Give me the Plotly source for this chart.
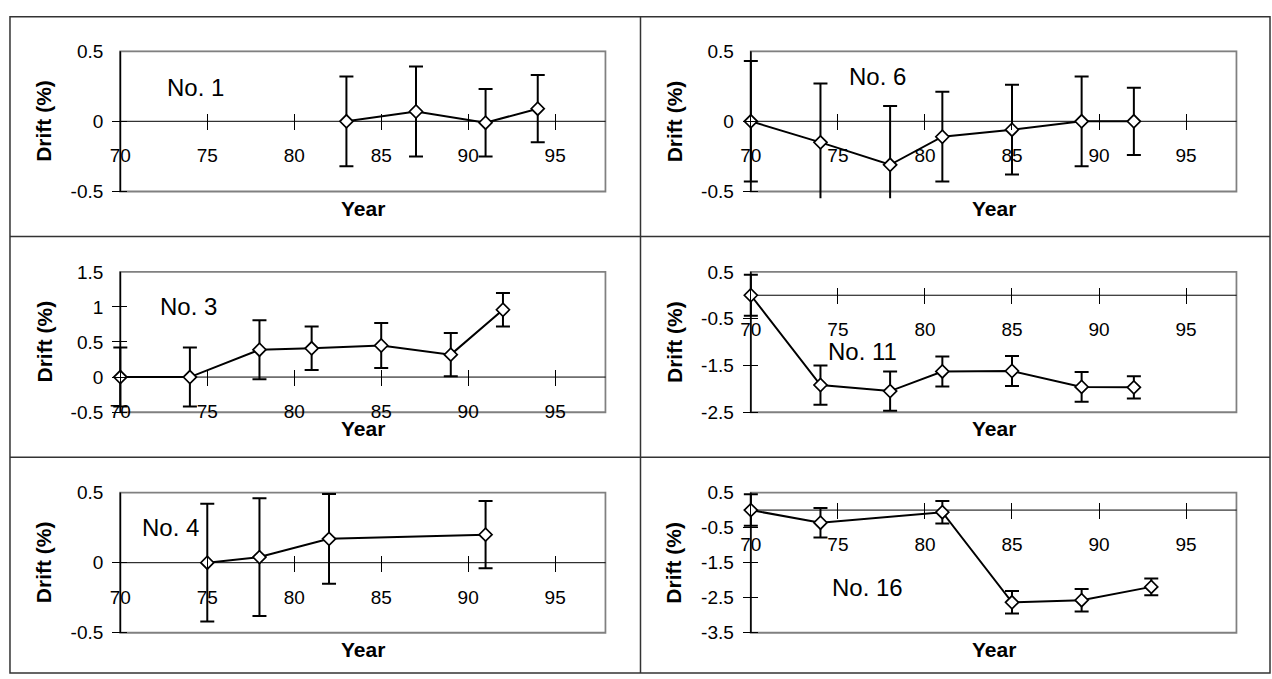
import plotly.graph_objects as go

# ---------------- data ----------------
YEAR_TICKS = [70, 75, 80, 85, 90, 95]
X_MIN, X_MAX = 70, 97.9

NO1_YEARS = [83, 87, 91, 94]
NO1_DRIFT = [0.0, 0.07, -0.01, 0.09]
NO1_ERR = [0.32, 0.32, 0.24, 0.24]
NO1_YTICKS = [-0.5, 0, 0.5]

NO6_YEARS = [70, 74, 78, 81, 85, 89, 92]
NO6_DRIFT = [0.0, -0.15, -0.31, -0.11, -0.06, 0.0, 0.0]
NO6_ERR = [0.43, 0.42, 0.42, 0.32, 0.32, 0.32, 0.24]
NO6_YTICKS = [-0.5, 0, 0.5]

NO3_YEARS = [70, 74, 78, 81, 85, 89, 92]
NO3_DRIFT = [0.0, 0.0, 0.39, 0.41, 0.45, 0.32, 0.96]
NO3_ERR = [0.42, 0.42, 0.42, 0.31, 0.32, 0.31, 0.24]
NO3_YTICKS = [-0.5, 0, 0.5, 1, 1.5]

NO11_YEARS = [70, 74, 78, 81, 85, 89, 92]
NO11_DRIFT = [0.0, -1.92, -2.05, -1.63, -1.62, -1.96, -1.97]
NO11_ERR = [0.44, 0.42, 0.42, 0.32, 0.32, 0.32, 0.24]
NO11_YTICKS = [-2.5, -1.5, -0.5, 0.5]

NO4_YEARS = [75, 78, 82, 91]
NO4_DRIFT = [0.0, 0.04, 0.17, 0.20]
NO4_ERR = [0.42, 0.42, 0.32, 0.24]
NO4_YTICKS = [-0.5, 0, 0.5]

NO16_YEARS = [70, 74, 81, 85, 89, 93]
NO16_DRIFT = [0.0, -0.36, -0.06, -2.63, -2.57, -2.19]
NO16_ERR = [0.45, 0.42, 0.32, 0.32, 0.32, 0.24]
NO16_YTICKS = [-3.5, -2.5, -1.5, -0.5, 0.5]

PANELS = [
    ("No. 1", NO1_YEARS, NO1_DRIFT, NO1_ERR, NO1_YTICKS),
    ("No. 6", NO6_YEARS, NO6_DRIFT, NO6_ERR, NO6_YTICKS),
    ("No. 3", NO3_YEARS, NO3_DRIFT, NO3_ERR, NO3_YTICKS),
    ("No. 11", NO11_YEARS, NO11_DRIFT, NO11_ERR, NO11_YTICKS),
    ("No. 4", NO4_YEARS, NO4_DRIFT, NO4_ERR, NO4_YTICKS),
    ("No. 16", NO16_YEARS, NO16_DRIFT, NO16_ERR, NO16_YTICKS),
]
# label anchor positions (data units)
LABEL_POS = [(74.3, 0.24), (77.3, 0.32), (73.9, 1.0), (76.4, -1.21), (72.9, 0.25), (76.7, -2.21)]

# ---------------- layout geometry (pixels) ----------------
W, H = 1272, 679
PLOT_L = [117.6, 749.6]
PLOT_R = [604.0, 1236.5]
ROW_T = [43, 268, 493]
ROW_B = [186, 411, 636]
PAD_L, PAD_R, PAD_T, PAD_B = 8, 1, 1, 7
XTICK_HALF = 8

FONT = "Liberation Sans, Arial, sans-serif"
TICK_SIZE = 19
TITLE_SIZE = 21
LABEL_SIZE = 24

fig = go.Figure()
layout = {}
shapes = []
annotations = []

for i, (name, yrs, drift, err, yticks) in enumerate(PANELS):
    r, c = divmod(i, 2)
    n = i + 1
    xa = "x" if n == 1 else f"x{n}"
    ya = "y" if n == 1 else f"y{n}"
    xkey = "xaxis" if n == 1 else f"xaxis{n}"
    ykey = "yaxis" if n == 1 else f"yaxis{n}"
    L, R, T, B = PLOT_L[c], PLOT_R[c], ROW_T[r], ROW_B[r]
    ymin, ymax = yticks[0], yticks[-1]
    ppx = (R - L) / (X_MAX - X_MIN)
    ppy = (B - T) / (ymax - ymin)
    zero_px = B - (0 - ymin) * ppy

    fig.add_trace(go.Scatter(
        x=yrs, y=drift, mode="lines+markers", xaxis=xa, yaxis=ya, showlegend=False,
        line=dict(color="black", width=2),
        marker=dict(symbol="diamond", size=10, color="white", line=dict(color="black", width=1.7)),
        error_y=dict(type="data", array=err, visible=True, color="black", thickness=2, width=7),
    ))

    layout[xkey] = dict(
        domain=[(L - PAD_L) / W, (R + PAD_R) / W],
        range=[X_MIN - PAD_L / ppx, X_MAX + PAD_R / ppx],
        anchor="free", position=1 - (zero_px - XTICK_HALF) / H,
        tickmode="array", tickvals=YEAR_TICKS, ticktext=[f"{v:g}" for v in YEAR_TICKS],
        ticks="outside", ticklen=2 * XTICK_HALF, tickwidth=1, tickcolor="black",
        showline=False, showgrid=False, zeroline=False,
        tickfont=dict(family=FONT, size=TICK_SIZE, color="black"), ticklabelstandoff=9,
        fixedrange=True,
    )
    layout[ykey] = dict(
        domain=[1 - (B + PAD_B) / H, 1 - (T - PAD_T) / H],
        range=[ymin - PAD_B / ppy, ymax + PAD_T / ppy],
        anchor=xa,
        tickmode="array", tickvals=yticks, ticktext=[f"{v:g}" for v in yticks],
        ticks="inside", ticklen=PAD_L + 7, tickwidth=1, tickcolor="black",
        showline=False, showgrid=False, zeroline=False,
        tickfont=dict(family=FONT, size=TICK_SIZE, color="black"), ticklabelstandoff=8,
        fixedrange=True,
    )

    # plot-area frame, zero line and y-axis line
    shapes.append(dict(type="rect", xref=xa, yref=ya, x0=X_MIN, x1=X_MAX, y0=ymin, y1=ymax,
                       line=dict(color="#808080", width=2), layer="below"))
    shapes.append(dict(type="line", xref=xa, yref=ya, x0=X_MIN, x1=X_MAX, y0=0, y1=0,
                       line=dict(color="black", width=1), layer="below"))
    shapes.append(dict(type="line", xref=xa, yref=ya, x0=X_MIN, x1=X_MIN, y0=ymin, y1=ymax,
                       line=dict(color="black", width=1.5), layer="below"))

    lx, ly = LABEL_POS[i]
    annotations.append(dict(text=name, x=lx, y=ly, xref=xa, yref=ya, showarrow=False,
                            xanchor="center", yanchor="middle",
                            font=dict(family=FONT, size=LABEL_SIZE, color="black")))
    annotations.append(dict(text="<b>Year</b>", x=(L + R) / 2 / W, y=1 - (B + 17) / H,
                            xref="paper", yref="paper", showarrow=False,
                            xanchor="center", yanchor="middle",
                            font=dict(family=FONT, size=TITLE_SIZE, color="black")))
    annotations.append(dict(text="<b>Drift (%)</b>", x=(L - 77) / W, y=1 - (T + B) / 2 / H,
                            xref="paper", yref="paper", showarrow=False, textangle=-90,
                            xanchor="center", yanchor="middle",
                            font=dict(family=FONT, size=TITLE_SIZE, color="black")))

# table-cell borders
BORDER_L, BORDER_R, BORDER_T, BORDER_B = 7, 1270, 8, 677
MID_X = 639
ROW_LINES = [232, 457]
bc = dict(color="#333333", width=1.5)
shapes.append(dict(type="rect", xref="paper", yref="paper", x0=BORDER_L / W, x1=BORDER_R / W,
                   y0=1 - BORDER_B / H, y1=1 - BORDER_T / H, line=bc))
shapes.append(dict(type="line", xref="paper", yref="paper", x0=MID_X / W, x1=MID_X / W,
                   y0=1 - BORDER_B / H, y1=1 - BORDER_T / H, line=bc))
for yl in ROW_LINES:
    shapes.append(dict(type="line", xref="paper", yref="paper", x0=BORDER_L / W, x1=BORDER_R / W,
                       y0=1 - yl / H, y1=1 - yl / H, line=bc))

fig.update_layout(
    width=W, height=H, margin=dict(l=0, r=0, t=0, b=0),
    paper_bgcolor="white", plot_bgcolor="rgba(0,0,0,0)",
    shapes=shapes, annotations=annotations, showlegend=False,
    font=dict(family=FONT, color="black"),
    **layout,
)

PAGE_FIX = (
    "document.body.style.margin='0';document.body.style.overflow='hidden';"
    "var d=document.getElementById('{plot_id}');"
    "d.style.position='absolute';d.style.left='0px';d.style.top='0px';"
)
fig.write_html("out.html", config={"displayModeBar": False}, post_script=PAGE_FIX)
